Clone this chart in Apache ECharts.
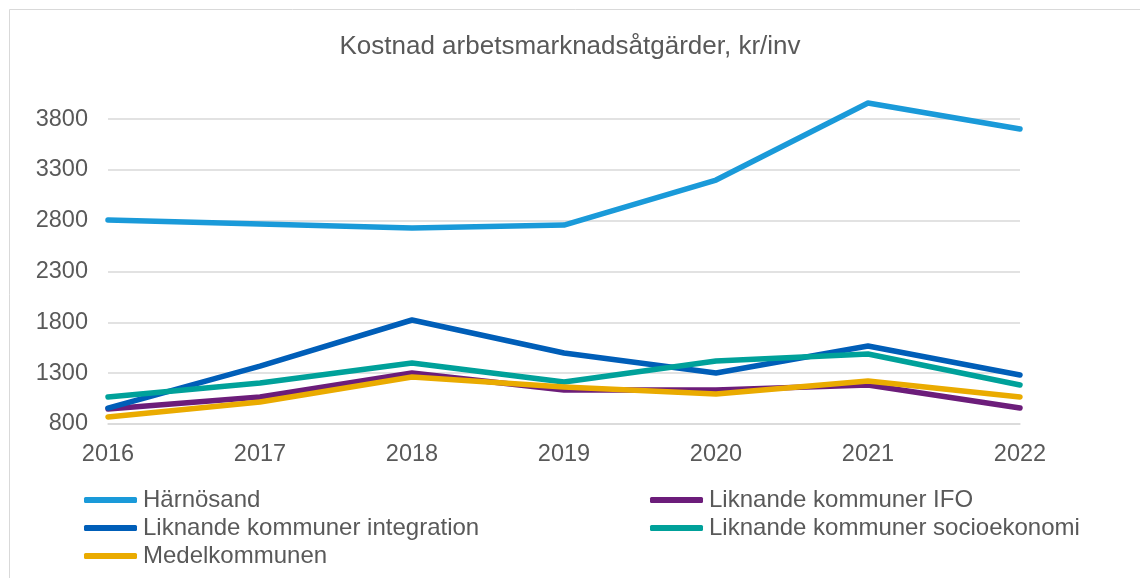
<!DOCTYPE html>
<html>
<head>
<meta charset="utf-8">
<script src="https://cdn.jsdelivr.net/npm/echarts@6/dist/echarts.min.js"></script>
<style>
  html, body { margin: 0; padding: 0; background: #fff; }
  #chart { width: 1140px; height: 578px; }
</style>
</head>
<body>
<div id="chart"></div>
<script>
var years = ['2016', '2017', '2018', '2019', '2020', '2021', '2022'];
var harnosand = [2807, 2767, 2728, 2757, 3200, 3958, 3702];
var integration = [957, 1370, 1823, 1498, 1302, 1567, 1282];
var ifo = [948, 1066, 1302, 1135, 1135, 1184, 957];
var socio = [1066, 1203, 1400, 1213, 1420, 1489, 1184];
var medel = [869, 1016, 1262, 1164, 1095, 1223, 1066];

var font = '"Liberation Sans", Arial, sans-serif';
var grey = '#595959';

var myChart = echarts.init(document.getElementById('chart'));

function line(name, data, color) {
    return {
        name: name,
        type: 'line',
        data: data,
        symbol: 'none',
        smooth: false,
        lineStyle: { color: color, width: 5.5, cap: 'round', join: 'round' },
        itemStyle: { color: color }
    };
}

var legendBase = {
    orient: 'vertical',
    padding: 0,
    itemWidth: 53,
    itemHeight: 6,
    itemGap: 4,
    icon: 'roundRect',
    textStyle: { fontFamily: font, fontSize: 24, color: grey, padding: [0, 0, 0, 1] }
};

option = {
    animation: false,
    backgroundColor: '#fff',
    graphic: [{
        type: 'rect',
        shape: { x: 9.5, y: 9.5, width: 1300, height: 800 },
        style: { fill: 'none', stroke: '#d9d9d9', lineWidth: 1 },
        silent: true,
        z: -1
    }],
    title: {
        text: 'Kostnad arbetsmarknadsåtgärder, kr/inv',
        left: 'center',
        top: 29,
        textStyle: { fontFamily: font, fontSize: 26, fontWeight: 'normal', color: grey }
    },
    legend: [
        Object.assign({}, legendBase, { left: 84, top: 488, data: ['Härnösand', 'Liknande kommuner integration', 'Medelkommunen'] }),
        Object.assign({}, legendBase, { left: 650, top: 488, data: ['Liknande kommuner IFO', 'Liknande kommuner socioekonomi'] })
    ],
    grid: { left: 108, right: 120, top: 98.7, bottom: 154, containLabel: false },
    xAxis: {
        type: 'category',
        data: years,
        boundaryGap: false,
        axisLine: { lineStyle: { color: '#d9d9d9', width: 1.5 } },
        axisTick: { show: false },
        axisLabel: { fontFamily: font, fontSize: 23.5, color: grey, margin: 19 }
    },
    yAxis: {
        type: 'value',
        min: 800,
        max: 4000,
        interval: 500,
        axisLine: { show: false },
        axisTick: { show: false },
        axisLabel: {
            fontFamily: font, fontSize: 23.5, color: grey, margin: 20, showMaxLabel: false,
            formatter: function (v) { return String(v); }
        },
        splitLine: { showMaxLine: false, lineStyle: { color: '#d9d9d9', width: 1.5 } }
    },
    series: [
        line('Härnösand', harnosand, '#1a9ad9'),
        line('Liknande kommuner IFO', ifo, '#6c1d7a'),
        line('Liknande kommuner integration', integration, '#005eb8'),
        line('Liknande kommuner socioekonomi', socio, '#00a19a'),
        line('Medelkommunen', medel, '#eaab00')
    ]
};

myChart.setOption(option);
</script>
</body>
</html>
